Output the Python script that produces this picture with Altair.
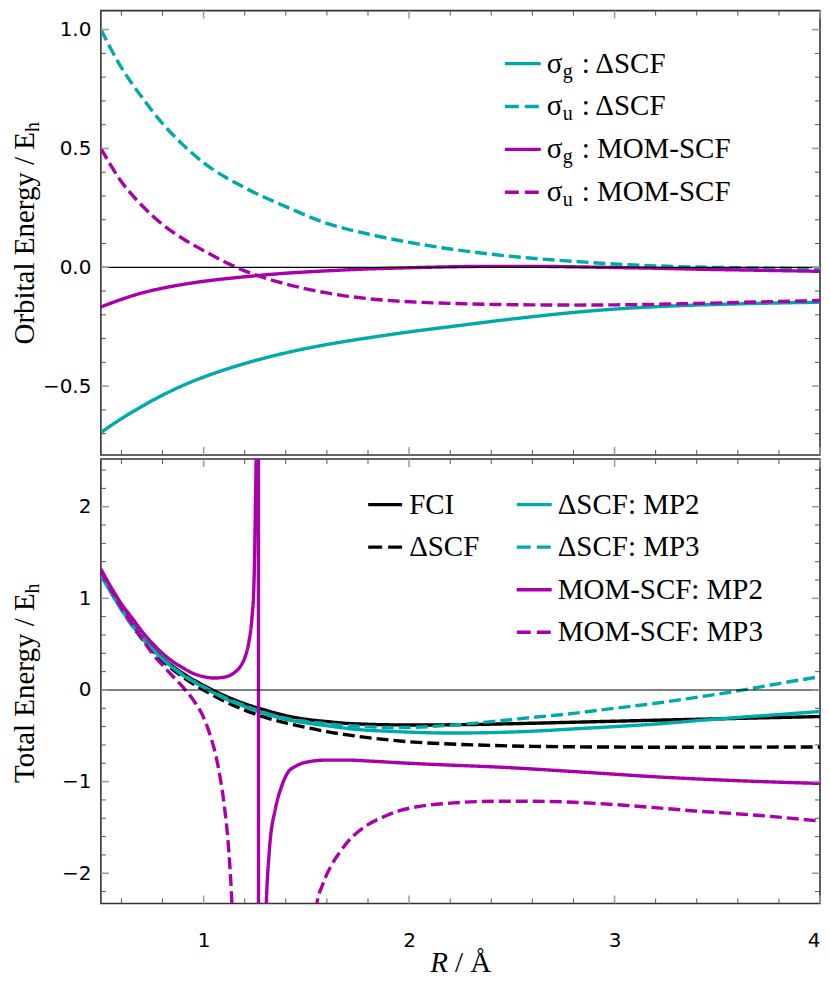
import altair as alt
import pandas as pd

# ---------------- data ----------------
R_TOP = [0.5, 0.6, 0.7, 0.8, 0.9, 1.0, 1.2, 1.4, 1.6, 1.8, 2.0, 2.2, 2.4, 2.6, 2.8,
         3.0, 3.2, 3.4, 3.6, 3.8, 4.0]
SG_DSCF = [-0.695, -0.637, -0.585, -0.538, -0.497, -0.462, -0.405, -0.36, -0.325, -0.297, -0.272,
           -0.25, -0.228, -0.208, -0.19, -0.176, -0.166, -0.159, -0.154, -0.15, -0.147]
SU_DSCF = [1.0, 0.84, 0.715, 0.605, 0.515, 0.44, 0.335, 0.255, 0.185, 0.14, 0.105,
           0.077, 0.055, 0.038, 0.025, 0.014, 0.006, 0.001, -0.002, -0.004, -0.005]
SG_MOM = [-0.167, -0.135, -0.108, -0.088, -0.072, -0.059, -0.04, -0.025, -0.015, -0.007, -0.002,
          0.002, 0.004, 0.004, 0.002, -0.001, -0.004, -0.008, -0.011, -0.014, -0.017]
SU_MOM = [0.50, 0.36, 0.26, 0.18, 0.12, 0.07, -0.015, -0.07, -0.108, -0.132, -0.145,
          -0.152, -0.156, -0.158, -0.159, -0.158, -0.156, -0.152, -0.148, -0.144, -0.14]

R_BOT = [0.5, 0.6, 0.7, 0.8, 0.9, 1.0, 1.1, 1.2, 1.3, 1.4, 1.5, 1.6, 1.7, 1.8, 1.9, 2.0,
         2.2, 2.4, 2.6, 2.8, 3.0, 3.2, 3.4, 3.6, 3.8, 4.0]
E_FCI = [1.30, 0.90, 0.58, 0.35, 0.18, 0.05, -0.06, -0.15, -0.22, -0.28, -0.32, -0.345, -0.365,
         -0.375, -0.38, -0.382, -0.38, -0.373, -0.363, -0.352, -0.341, -0.33, -0.32, -0.31, -0.30, -0.29]
E_DSCF = [1.28, 0.88, 0.56, 0.32, 0.14, 0.0, -0.12, -0.22, -0.30, -0.36, -0.41, -0.455, -0.49,
          -0.52, -0.545, -0.565, -0.59, -0.605, -0.615, -0.62, -0.623, -0.625, -0.625, -0.624, -0.623, -0.622]
E_DSCF_MP2 = [1.25, 0.88, 0.57, 0.34, 0.16, 0.03, -0.09, -0.18, -0.26, -0.32, -0.36, -0.39, -0.42,
              -0.44, -0.45, -0.46, -0.47, -0.465, -0.45, -0.425, -0.40, -0.372, -0.335, -0.30, -0.268, -0.235]
E_DSCF_MP3 = [1.26, 0.88, 0.57, 0.34, 0.165, 0.035, -0.08, -0.17, -0.25, -0.31, -0.345, -0.37, -0.39,
              -0.40, -0.41, -0.408, -0.385, -0.345, -0.30, -0.255, -0.20, -0.145, -0.08, -0.01, 0.07, 0.145]

R_MOM_MP2 = [0.5, 0.55, 0.6, 0.65, 0.7, 0.75, 0.8, 0.85, 0.9, 0.95,
             1.0, 1.05, 1.1, 1.15, 1.18, 1.2, 1.22, 1.235, 1.245, 1.252,
             1.258, 1.263, 1.266, 1.268, 1.272, 1.285, 1.3, 1.32, 1.35, 1.38,
             1.41, 1.45, 1.52, 1.6, 1.7, 1.8, 2.0, 2.2, 2.42, 2.8,
             3.22, 3.6, 4.0]
E_MOM_MP2 = [1.32, 1.12, 0.94, 0.79, 0.64, 0.51, 0.40, 0.31, 0.24, 0.18,
             0.145, 0.13, 0.14, 0.19, 0.26, 0.35, 0.52, 0.78, 1.15, 2.0,
             3.2, 6.0, 40.0, -40.0, -12.0, -4.5, -2.7, -1.75, -1.29, -1.05,
             -0.9, -0.83, -0.78, -0.765, -0.765, -0.775, -0.8, -0.82, -0.84, -0.89,
             -0.95, -0.99, -1.02]

R_MOM_MP3 = [0.5, 0.55, 0.6, 0.65, 0.7, 0.75, 0.8, 0.85, 0.9, 0.95,
             1.0, 1.03, 1.06, 1.08, 1.1, 1.12, 1.135, 1.15, 1.17, 1.35,
             1.52, 1.55, 1.58, 1.62, 1.66, 1.7, 1.75, 1.8, 1.87, 1.95,
             2.05, 2.2, 2.42, 2.6, 2.8, 3.06, 3.39, 3.71, 4.0]
E_MOM_MP3 = [1.30, 1.09, 0.90, 0.73, 0.56, 0.40, 0.27, 0.15, 0.03, -0.11,
             -0.30, -0.48, -0.72, -0.95, -1.25, -1.68, -2.2, -3.0, -4.5, -40.0,
             -4.0, -2.35, -2.12, -1.92, -1.78, -1.66, -1.55, -1.47, -1.39, -1.32,
             -1.27, -1.235, -1.215, -1.215, -1.225, -1.26, -1.32, -1.37, -1.43]

TOP_NAMES = ["σg : ΔSCF", "σu : ΔSCF", "σg : MOM-SCF", "σu : MOM-SCF"]
TOP_SUBS = ["g", "u", "g", "u"]
TOP_TAILS = [": ΔSCF", ": ΔSCF", ": MOM-SCF", ": MOM-SCF"]
BOT_NAMES = ["FCI", "ΔSCF", "ΔSCF: MP2", "ΔSCF: MP3", "MOM-SCF: MP2", "MOM-SCF: MP3"]

X_MAJOR = [1, 2, 3, 4]
X_MINOR = [0.6, 0.8, 1.2, 1.4, 1.6, 1.8, 2.2, 2.4, 2.6, 2.8, 3.2, 3.4, 3.6, 3.8]
YT_MAJOR = [-0.5, 0.0, 0.5, 1.0]
YT_MINOR = [-0.7, -0.6, -0.4, -0.3, -0.2, -0.1, 0.1, 0.2, 0.3, 0.4, 0.6, 0.7, 0.8, 0.9]
YB_MAJOR = [-2, -1, 0, 1, 2]
YB_MINOR = [-2.2, -1.8, -1.6, -1.4, -1.2, -0.8, -0.6, -0.4, -0.2, 0.2, 0.4, 0.6, 0.8,
            1.2, 1.4, 1.6, 1.8, 2.2, 2.4]

# ---------------- styles ----------------
W, H = 720, 445
KX = W / 721.0          # legend placement relative to the reference's 721px-wide plot
KYT = H / 453.0
KYB = H / 449.0
TEAL, MAG = "#00AAAA", "#AA00AA"
SERIF = "Liberation Serif"
SANS = "DejaVu Sans"
FS = 29
LW = 3.4
DASH = [12, 5]
SOLID = [1, 0]
ONE = pd.DataFrame({"k": [0]})

xs = alt.Scale(domain=[0.5, 4.0], nice=False, zero=False)
ys_top = alt.Scale(domain=[-0.79, 1.08], nice=False, zero=False)
ys_bot = alt.Scale(domain=[-2.33, 2.52], nice=False, zero=False)

AX_Y_TOP = alt.Axis(values=YT_MAJOR, format=".1f", title=None, ticks=False, domain=False, grid=False,
                    labelFont=SANS, labelFontSize=20, labelPadding=10, labelColor="black")
AX_Y_BOT = alt.Axis(values=YB_MAJOR, format="d", title=None, ticks=False, domain=False, grid=False,
                    labelFont=SANS, labelFontSize=20, labelPadding=10, labelColor="black")
AX_X_BOT = alt.Axis(values=X_MAJOR, format="d", title=None, ticks=False, domain=False, grid=False,
                    labelFont=SANS, labelFontSize=20, labelPadding=27, labelColor="black",
                    labelFlush=True)


def long_df(pairs):
    rows = []
    for name, xv, yv in pairs:
        for a, b in zip(xv, yv):
            rows.append({"R": a, "E": b, "series": name})
    return pd.DataFrame(rows)


def xticks(xaxis):
    out = []
    for vals, ln, col, sw in [(X_MINOR, 5, "#555555", 1.0), (X_MAJOR, 8, "#999999", 1.5)]:
        base = alt.Chart(pd.DataFrame({"R": vals})).mark_rule(color=col, strokeWidth=sw)
        out.append(base.encode(x=alt.X("R:Q", scale=xs, axis=xaxis), y=alt.value(0), y2=alt.value(ln)))
        out.append(base.encode(x=alt.X("R:Q", scale=xs, axis=xaxis), y=alt.value(H), y2=alt.value(H - ln)))
    return out


def yticks(minor, major, ys, yaxis):
    out = []
    for vals, ln, col, sw in [(minor, 5, "#555555", 1.0), (major, 8, "#999999", 1.5)]:
        base = alt.Chart(pd.DataFrame({"E": vals})).mark_rule(color=col, strokeWidth=sw)
        out.append(base.encode(y=alt.Y("E:Q", scale=ys, axis=yaxis), x=alt.value(0), x2=alt.value(ln)))
        out.append(base.encode(y=alt.Y("E:Q", scale=ys, axis=yaxis), x=alt.value(W), x2=alt.value(W - ln)))
    return out


def handle(x1, x2, y, color, dashed):
    kw = dict(color=color, strokeWidth=LW)
    if dashed:
        kw["strokeDash"] = [14, 6]
    return alt.Chart(ONE).mark_rule(**kw).encode(x=alt.value(x1), x2=alt.value(x2), y=alt.value(y))


def label(txt, x, y, size=FS, align="left", angle=None, style=None):
    kw = dict(text=txt, font=SERIF, fontSize=size, align=align, baseline="alphabetic", color="black")
    if angle is not None:
        kw["angle"] = angle
    if style is not None:
        kw["fontStyle"] = style
    return alt.Chart(ONE).mark_text(**kw).encode(x=alt.value(x), y=alt.value(y))


def zero_line(ys, yaxis):
    return alt.Chart(pd.DataFrame({"E": [0]})).mark_rule(color="black", strokeWidth=1.2).encode(
        y=alt.Y("E:Q", scale=ys, axis=yaxis))


# ---------------- top panel ----------------
df_top = long_df([
    (TOP_NAMES[0], R_TOP, SG_DSCF),
    (TOP_NAMES[1], R_TOP, SU_DSCF),
    (TOP_NAMES[2], R_TOP, SG_MOM),
    (TOP_NAMES[3], R_TOP, SU_MOM),
])
top_colors = [TEAL, TEAL, MAG, MAG]
top_dash = [SOLID, DASH, SOLID, DASH]

lines_top = alt.Chart(df_top).mark_line(clip=True, strokeWidth=LW, interpolate="monotone").encode(
    x=alt.X("R:Q", scale=xs, axis=None),
    y=alt.Y("E:Q", scale=ys_top, axis=AX_Y_TOP),
    color=alt.Color("series:N", scale=alt.Scale(domain=TOP_NAMES, range=top_colors), legend=None),
    strokeDash=alt.StrokeDash("series:N", scale=alt.Scale(domain=TOP_NAMES, range=top_dash), legend=None),
)

top_layers = [lines_top, zero_line(ys_top, AX_Y_TOP)] + xticks(None) + \
    yticks(YT_MINOR, YT_MAJOR, ys_top, AX_Y_TOP)
for i in range(4):
    yc = (54 + i * 43.7) * KYT
    top_layers.append(handle(405 * KX, 441 * KX, yc, top_colors[i], i % 2 == 1))
    top_layers.append(label("σ", 447 * KX, yc + 9))
    top_layers.append(label(TOP_SUBS[i], 447 * KX + 16, yc + 14, size=20))
    top_layers.append(label(TOP_TAILS[i], 447 * KX + 35, yc + 9))
# y title
top_layers.append(label("Orbital Energy / E", -67, H / 2 - 101, align="right", angle=270))
top_layers.append(label("h", -62, H / 2 - 101, size=20, align="left", angle=270))

top = alt.layer(*top_layers).properties(width=W, height=H)

# ---------------- bottom panel ----------------
df_bot = long_df([
    (BOT_NAMES[0], R_BOT, E_FCI),
    (BOT_NAMES[1], R_BOT, E_DSCF),
    (BOT_NAMES[2], R_BOT, E_DSCF_MP2),
    (BOT_NAMES[3], R_BOT, E_DSCF_MP3),
    (BOT_NAMES[4], R_MOM_MP2, E_MOM_MP2),
    (BOT_NAMES[5], R_MOM_MP3, E_MOM_MP3),
])
bot_colors = ["black", "black", TEAL, TEAL, MAG, MAG]
bot_dash = [SOLID, DASH, SOLID, DASH, SOLID, DASH]

lines_bot = alt.Chart(df_bot).mark_line(clip=True, strokeWidth=LW, interpolate="monotone").encode(
    x=alt.X("R:Q", scale=xs, axis=AX_X_BOT),
    y=alt.Y("E:Q", scale=ys_bot, axis=AX_Y_BOT),
    color=alt.Color("series:N", scale=alt.Scale(domain=BOT_NAMES, range=bot_colors), legend=None),
    strokeDash=alt.StrokeDash("series:N", scale=alt.Scale(domain=BOT_NAMES, range=bot_dash), legend=None),
)

bot_layers = [lines_bot, zero_line(ys_bot, AX_Y_BOT)] + xticks(AX_X_BOT) + \
    yticks(YB_MINOR, YB_MAJOR, ys_bot, AX_Y_BOT)
# legend: column 1 (FCI, ΔSCF), column 2 (four perturbative curves)
for i in range(2):
    yc = (46 + i * 43) * KYB
    bot_layers.append(handle(268 * KX, 302 * KX, yc, bot_colors[i], i % 2 == 1))
    bot_layers.append(label(BOT_NAMES[i], 268 * KX + 41, yc + 9))
for j in range(4):
    yc = (46 + j * 43) * KYB
    bot_layers.append(handle(417 * KX, 452 * KX, yc, bot_colors[j + 2], j % 2 == 1))
    bot_layers.append(label(BOT_NAMES[j + 2], 417 * KX + 41, yc + 9))
# y title
bot_layers.append(label("Total Energy / E", -67, H / 2 - 88, align="right", angle=270))
bot_layers.append(label("h", -62, H / 2 - 88, size=20, align="left", angle=270))
# x title
bot_layers.append(label("R", W / 2 - 12.5, H + 69, align="right", style="italic"))
bot_layers.append(label("/ Å", W / 2 - 5.5, H + 69, align="left"))

bottom = alt.layer(*bot_layers).properties(width=W, height=H)

chart = alt.vconcat(top, bottom, spacing=0).resolve_scale(
    color="independent", strokeDash="independent"
).properties(
    padding={"left": 2, "top": 0, "right": 0, "bottom": 0}
).configure(background="white").configure_view(stroke="#333333", strokeWidth=1.6)

chart.save("out.html", embed_options={"renderer": "svg", "actions": False})
